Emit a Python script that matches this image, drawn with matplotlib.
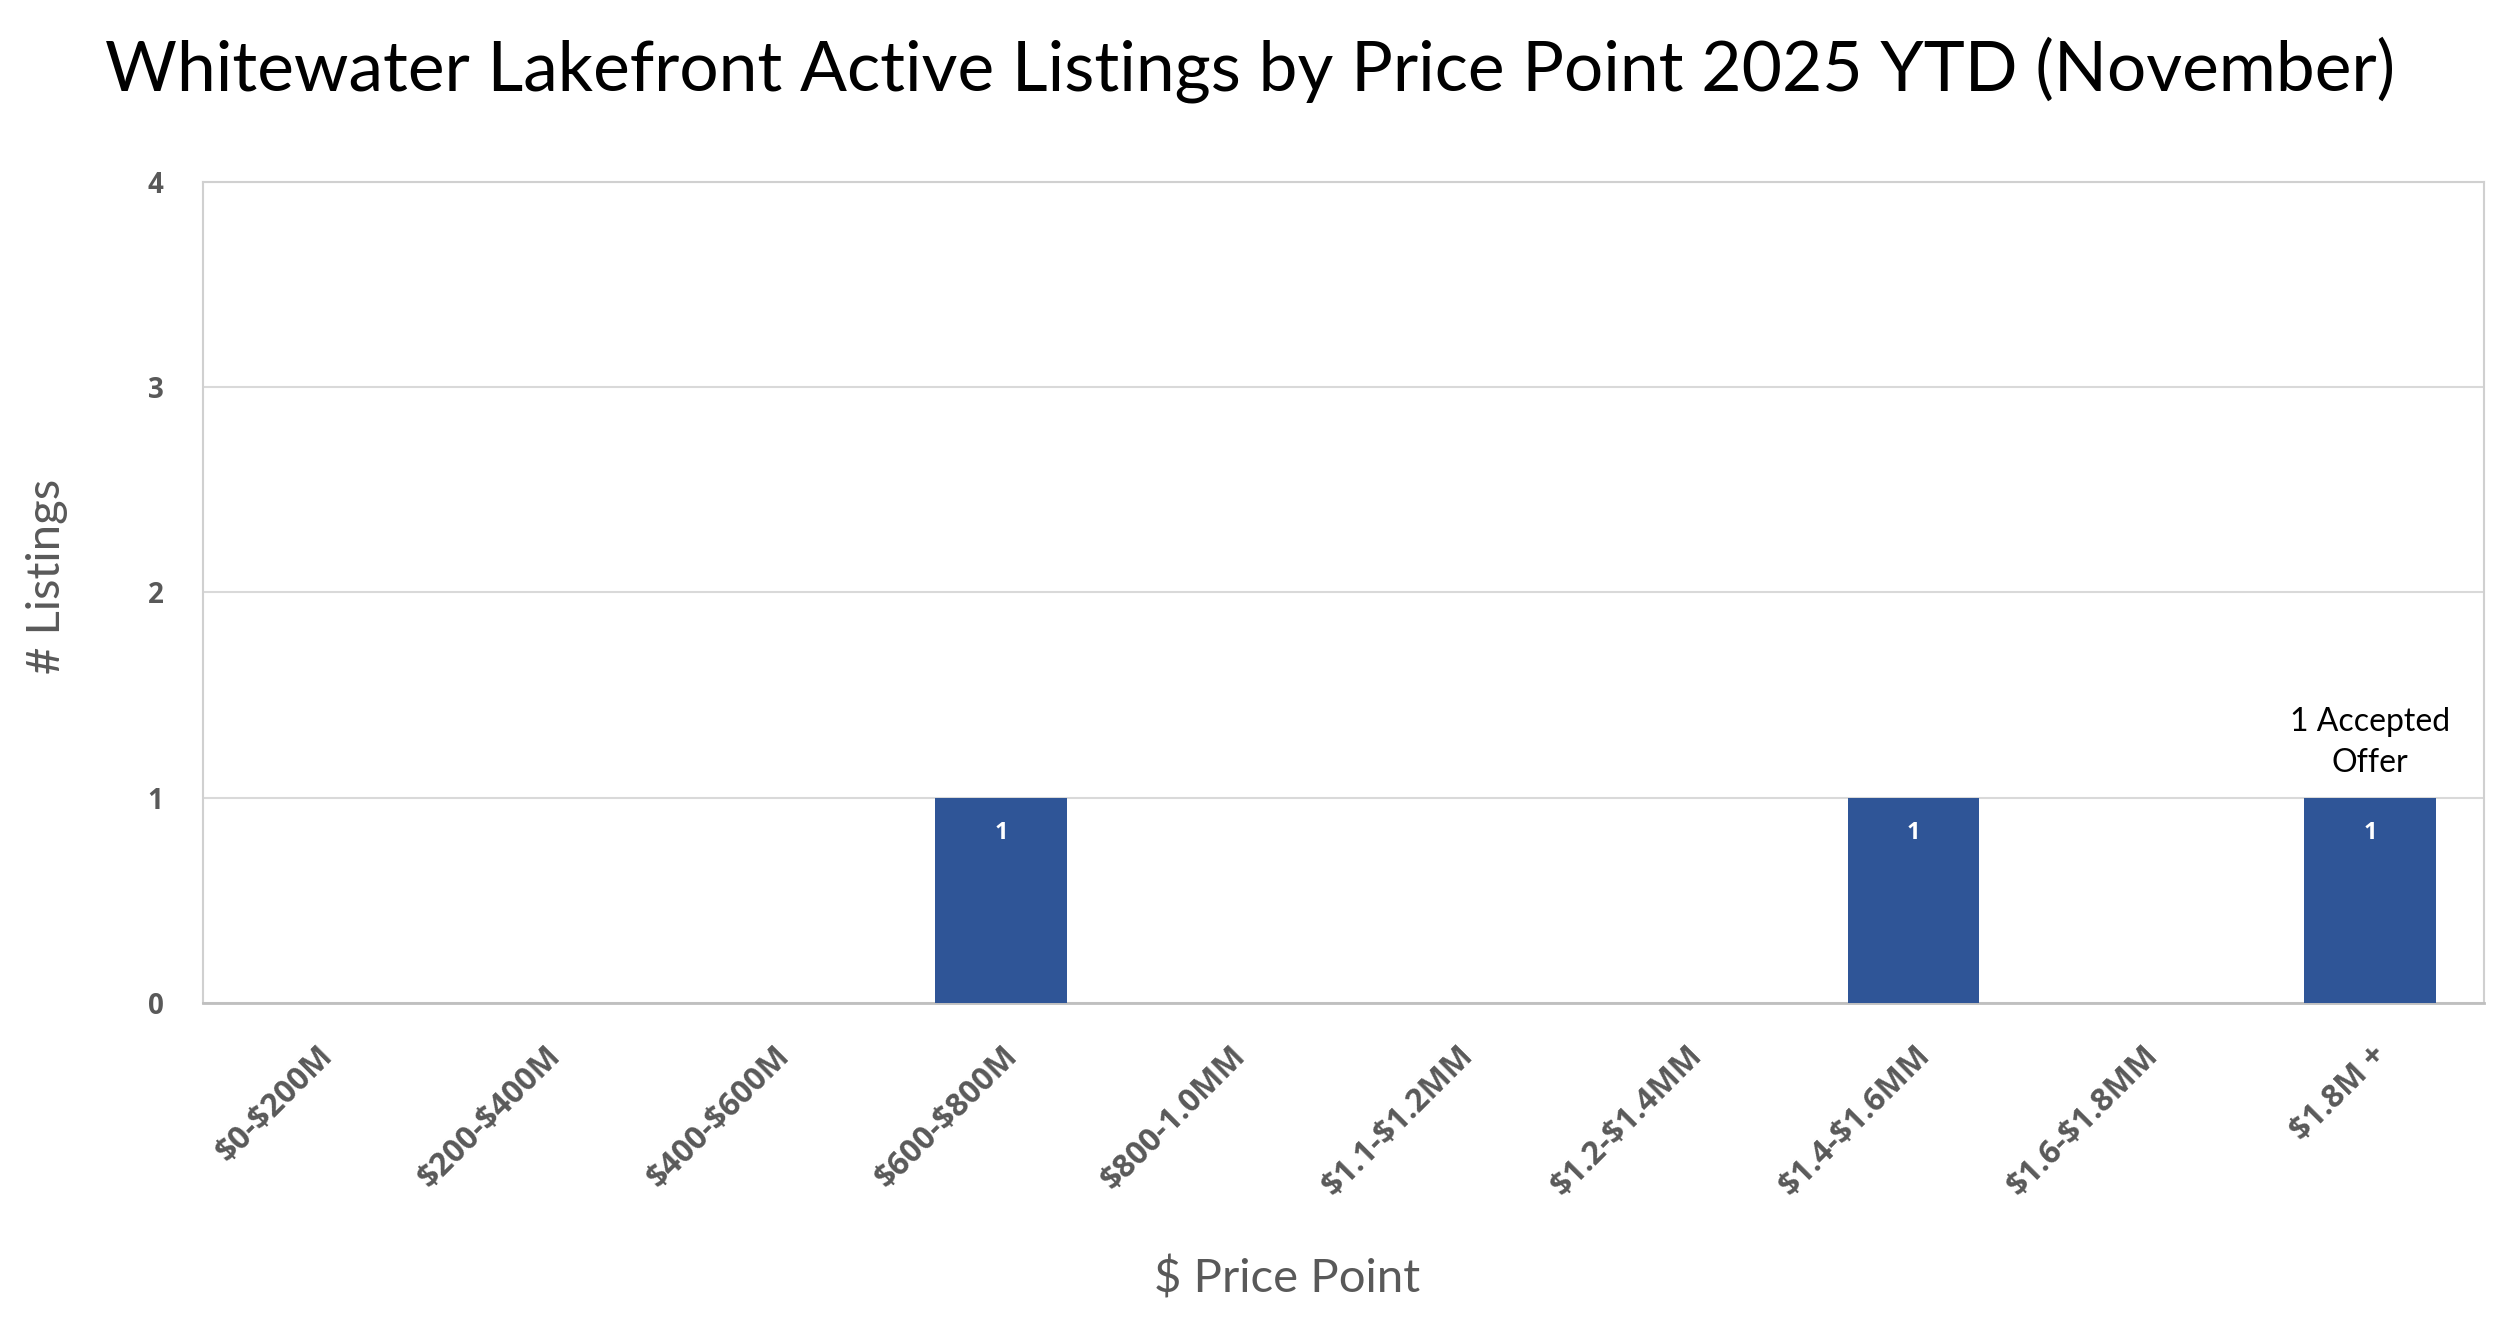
import numpy as np
import matplotlib.pyplot as plt

categories = ['$0-$200M', '$200-$400M', '$400-$600M', '$600-$800M', '$800-1.0MM',
              '$1.1-$1.2MM', '$1.2-$1.4MM', '$1.4-$1.6MM', '$1.6-$1.8MM', '$1.8M +']
listings = [0, 0, 0, 1, 0, 0, 0, 1, 0, 1]
note_index = 9
note_text = '1 Accepted\nOffer'

plt.rcParams['font.family'] = ['Lato', 'DejaVu Sans']
plt.rcParams['text.parse_math'] = False

fig = plt.figure(figsize=(25, 13.17), dpi=100)
ax = fig.add_axes([0.081, 0.2384, 0.9126, 0.6236])

x = np.arange(len(categories))
bars = ax.bar(x, listings, width=0.575, color='#2f5597', zorder=3)

bold_font = ['Open Sans', 'DejaVu Sans']

for xi, v in zip(x, listings):
    if v > 0:
        ax.annotate(str(v), (xi, v), xytext=(0, -17), textcoords='offset points',
                    ha='center', va='top', color='white', fontsize=17, fontweight='bold',
                    family=bold_font)

ax.annotate(note_text, (x[note_index], listings[note_index]), xytext=(0, 14),
            textcoords='offset points', ha='center', va='bottom', fontsize=23,
            color='black', linespacing=1.45)

ax.set_xlim(-0.5, len(categories) - 0.5)
ax.set_ylim(0, 4)
ax.set_yticks([0, 1, 2, 3, 4])
ax.grid(axis='y', color='#d9d9d9', linewidth=1.5, zorder=0)
ax.tick_params(length=0)
ax.tick_params(axis='y', pad=28)
ax.set_yticklabels(['0', '1', '2', '3', '4'], fontsize=20, fontweight='bold',
                   color='#595959', family=bold_font)
ax.set_xticks(x)
ax.set_xticklabels(categories, rotation=45, ha='right', va='top', rotation_mode='anchor',
                   fontsize=23, fontweight='bold', color='#595959', family=bold_font)
ax.tick_params(axis='x', pad=26)

for side in ['left', 'top', 'right']:
    ax.spines[side].set_color('#d0d0d0')
    ax.spines[side].set_linewidth(1.5)
ax.spines['bottom'].set_color('#bfbfbf')
ax.spines['bottom'].set_linewidth(2)

fig.text(0.5, 0.947, 'Whitewater Lakefront Active Listings by Price Point 2025 YTD (November)',
         ha='center', va='center', fontsize=50, color='black')
fig.text(0.019, 0.562, '# Listings', rotation=90, ha='center', va='center',
         fontsize=34, color='#595959')
fig.text(0.515, 0.029, '$ Price Point', ha='center', va='center', fontsize=34, color='#595959')

fig.savefig('out.png', dpi=100, facecolor='white')
